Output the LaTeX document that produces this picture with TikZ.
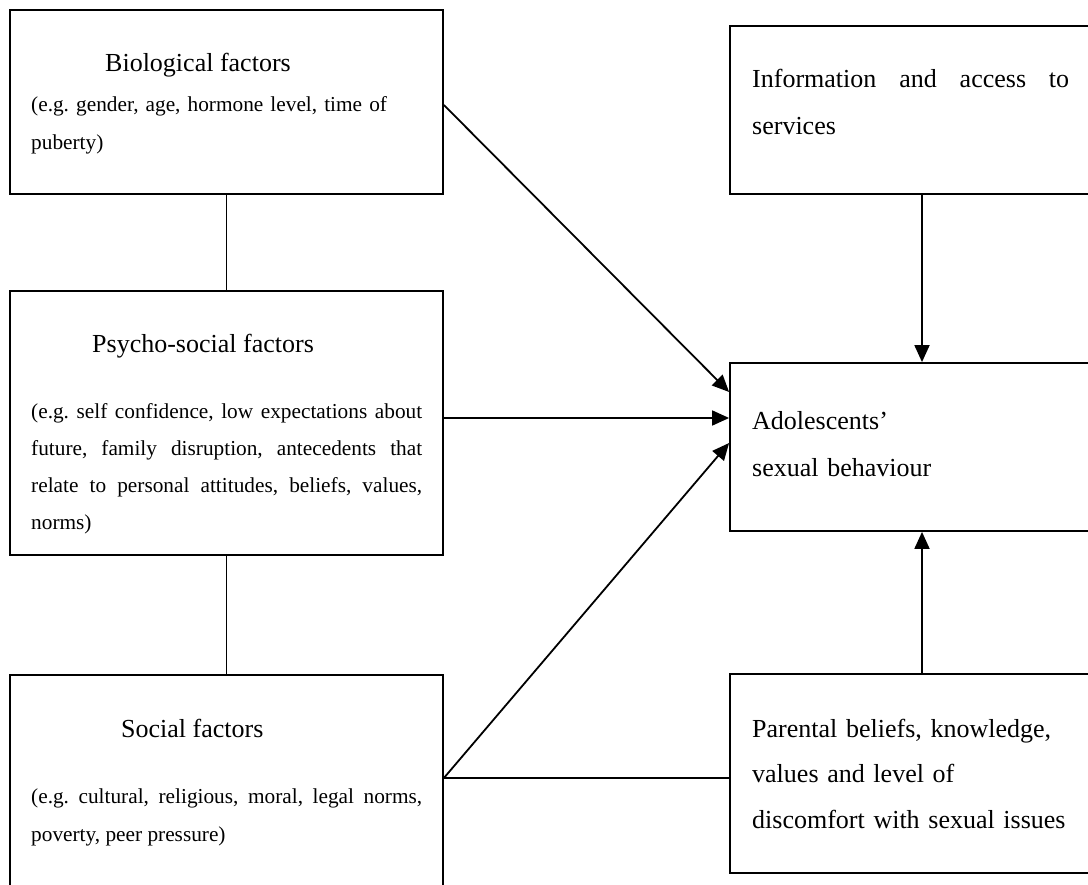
\documentclass[tikz,border=0pt]{standalone}
\usepackage{fontspec}
\setmainfont{Liberation Serif}
\frenchspacing
\usetikzlibrary{arrows.meta}
\tikzset{
  box/.style={draw, line width=1.8pt, rectangle, inner sep=0pt},
  conn/.style={line width=1.8pt},
  arr/.style={line width=1.8pt, -{Triangle[length=17pt,width=15pt]}},
  ttl/.style={anchor=base west, inner sep=0pt, font={\fontsize{26}{30}\selectfont}},
  bodytxt/.style={anchor=base west, inner sep=0pt, text width=391pt, font={\fontsize{21.3}{37.5}\selectfont}},
  righttxt/.style={anchor=base west, inner sep=0pt, font={\fontsize{26}{47}\selectfont}}
}
\begin{document}
\begin{tikzpicture}[x=1pt,y=-1pt]
\useasboundingbox (0,0) rectangle (1088,885);
\clip (0,0) rectangle (1088,885);
% boxes
\node[box, minimum width=433pt, minimum height=184pt] (bio) at (226.5,102) {};
\node[box, minimum width=433pt, minimum height=264pt] (psy) at (226.5,423) {};
\node[box, minimum width=433pt, minimum height=230pt] (soc) at (226.5,790) {};
\node[box, minimum width=384pt, minimum height=168pt] (info) at (922,110) {};
\node[box, minimum width=384pt, minimum height=168pt] (adol) at (922,447) {};
\node[box, minimum width=384pt, minimum height=199pt] (par) at (922,773.5) {};
% texts
\node[ttl] (biot) at (105,72) {Biological factors};
\node[bodytxt, align=left, font={\fontsize{21.3}{38}\selectfont}] (biob) at (31,112) {(e.g. gender, age, hormone level, time of\\puberty)};
\node[ttl] (psyt) at (92,353) {Psycho-social factors};
\node[bodytxt, align=justify, font={\fontsize{21.3}{36.7}\selectfont}] (psyb) at (31,419) {\hyphenpenalty=10000 (e.g. self confidence, low expectations about\linebreak future, family disruption, antecedents that\linebreak relate to personal attitudes, beliefs, values,\linebreak norms)};
\node[ttl] (soct) at (121,737) {Social factors};
\node[bodytxt, align=justify, font={\fontsize{21.3}{38}\selectfont}] (socb) at (31,803) {\hyphenpenalty=10000 (e.g. cultural, religious, moral, legal norms,\linebreak poverty, peer pressure)};
\node[righttxt, text width=317pt, align=justify] (infot) at (752,88) {\hyphenpenalty=10000 Information and access to\linebreak services};
\node[righttxt, text width=320pt, align=left] (adolt) at (752,430) {Adolescents'\\sexual behaviour};
\node[righttxt, text width=330pt, align=left, font={\fontsize{26}{45.5}\selectfont}] (part) at (752,737) {Parental beliefs, knowledge,\\values and level of\\discomfort with sexual issues};
% connectors
\draw[conn] (bio.south) -- (psy.north);
\draw[conn] (psy.south) -- (soc.north);
\draw[arr] (bio.east |- 0,105) -- (adol.west |- 0,392);
\draw[arr] (psy.east |- 0,418) -- (adol.west |- 0,418);
\draw[arr] (soc.east |- 0,778) -- (adol.west |- 0,443);
\draw[conn] (soc.east |- 0,778) -- (par.west |- 0,778);
\draw[arr] (info.south) -- (adol.north);
\draw[arr] (par.north) -- (adol.south);
\end{tikzpicture}
\end{document}
